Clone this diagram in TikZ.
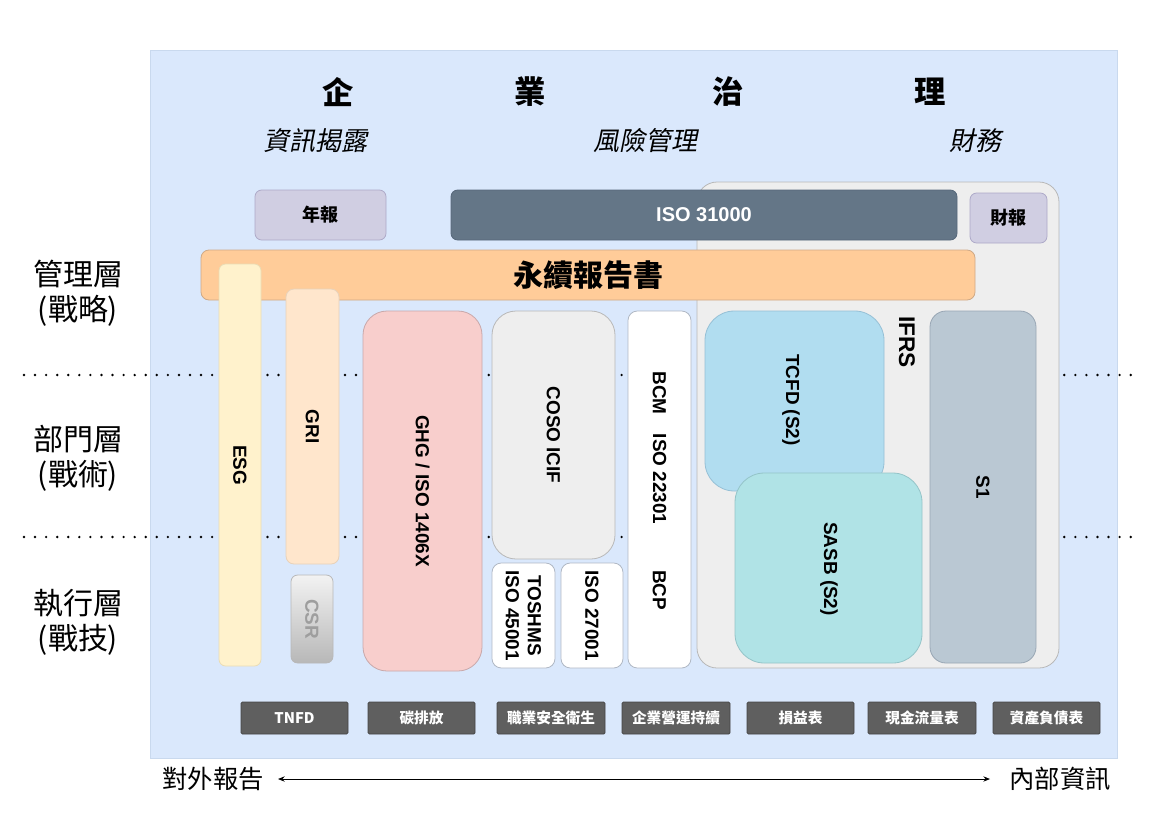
\documentclass[tikz,border=0pt]{standalone}
\usepackage{fontspec}
\setmainfont{Liberation Sans}
\newfontfamily\cjk{Noto Sans CJK TC}
\newfontfamily\cjkit{Noto Sans CJK TC}[FakeSlant=0.2]
\usetikzlibrary{fit,arrows.meta}
\definecolor{panelF}{HTML}{DAE8FC}
\definecolor{panelD}{HTML}{C9D9EE}
\definecolor{lavF}{HTML}{D0CEE2}
\definecolor{lavD}{HTML}{ADA9C8}
\definecolor{isoF}{HTML}{647687}
\definecolor{isoD}{HTML}{56677A}
\definecolor{orF}{HTML}{FFCC99}
\definecolor{orD}{HTML}{CFA986}
\definecolor{esgF}{HTML}{FFF2CC}
\definecolor{esgD}{HTML}{EADCB4}
\definecolor{griF}{HTML}{FFE6CC}
\definecolor{griD}{HTML}{E8D2BA}
\definecolor{ghgF}{HTML}{F8CECC}
\definecolor{ghgD}{HTML}{C8A8AA}
\definecolor{grF}{HTML}{EEEEEE}
\definecolor{grD}{HTML}{B8B8B8}
\definecolor{whD}{HTML}{B0B8C4}
\definecolor{tcF}{HTML}{B1DDF0}
\definecolor{tcD}{HTML}{96C0D6}
\definecolor{saF}{HTML}{B0E3E6}
\definecolor{saD}{HTML}{94C4C8}
\definecolor{s1F}{HTML}{BAC8D3}
\definecolor{s1D}{HTML}{98A6B4}
\definecolor{dkF}{HTML}{5F5F5F}
\definecolor{dkD}{HTML}{454545}
\tikzset{
  x=0.75pt, y=-0.75pt,
  bx/.style={inner sep=0pt, outer sep=0pt, rounded corners=#1, line width=0.6pt},
  bx/.default=6pt,
  vlab/.style={rotate=-90, font=\fontsize{14.2}{16.5}\selectfont\bfseries, inner sep=0pt, align=center},
  title/.style={font=\cjk\bfseries\fontsize{23.5}{27}\selectfont},
  sub/.style={font=\cjkit\fontsize{19.5}{23}\selectfont},
  layer/.style={font=\cjk\fontsize{22.5}{26.5}\selectfont, align=center, inner sep=0pt},
  dk/.style={bx=1pt, fill=dkF, draw=dkD},
  dklab/.style={font=\cjk\bfseries\fontsize{11}{13}\selectfont, text=white, inner sep=0pt},
  dotline/.style={line width=2pt, dash pattern=on 0pt off 8.3pt, line cap=round},
}
\begin{document}
\begin{tikzpicture}
\useasboundingbox (0,0) rectangle (1160,818);
% panel
\node[bx=0pt, fill=panelF, draw=panelD, fit={(150,50) (1117,758)}] (panel) {};
% dotted lines
\coordinate (d1l) at (24,375); \coordinate (d1r) at (1140,375);
\coordinate (d2l) at (24,537); \coordinate (d2r) at (1140,537);
\draw[dotline] (d1l) -- (d1r);
\draw[dotline] (d2l) -- (d2r);
% titles
\node[title] (t1) at (338,92) {企};
\node[title] (t2) at (530,92) {業};
\node[title] (t3) at (728,92) {治};
\node[title] (t4) at (930,92) {理};
\node[sub] (s1) at (315,141) {資訊揭露};
\node[sub] (s2) at (645,141) {風險管理};
\node[sub] (s3) at (975,141) {財務};
% layer labels
\node[layer] (L1) at (78,293) {管理層\\(戰略)};
\node[layer] (L2) at (78,458) {部門層\\(戰術)};
\node[layer] (L3) at (78,622) {執行層\\(戰技)};
% IFRS container
\node[bx=15pt, fill=grF, draw=grD, fit={(697,182) (1059,668)}] (ifrs) {};
% top row
\node[bx=5pt, fill=lavF, draw=lavD, fit={(255,190) (386,240)}] (nb) {};
\node[font=\cjk\bfseries\fontsize{13.5}{16}\selectfont] (nbT) at (nb.center) {年報};
\node[bx=5pt, fill=isoF, draw=isoD, fit={(451,190) (957,240)}] (iso) {};
\node[font=\bfseries\fontsize{15}{18}\selectfont, text=white] (isoT) at (iso.center) {ISO 31000};
\node[bx=5pt, fill=lavF, draw=lavD, fit={(970,193) (1047,243)}] (cb) {};
\node[font=\cjk\bfseries\fontsize{13.5}{16}\selectfont] (cbT) at (cb.center) {財報};
% sustainability bar
\node[bx=6pt, fill=orF, draw=orD, fit={(201,250) (975,300)}] (sus) {};
\node[font=\cjk\bfseries\fontsize{22.5}{26}\selectfont] (susT) at (588,275) {永續報告書};
% ESG / GRI / CSR
\node[bx=5pt, fill=esgF, draw=esgD, fit={(219,264) (261,666)}] (esg) {};
\node[vlab] (esgT) at (esg.center) {ESG};
\node[bx=6pt, fill=griF, draw=griD, fit={(286,289) (339,564)}] (gri) {};
\node[vlab] (griT) at (gri.center) {GRI};
\node[bx=5pt, top color=white!95!black, bottom color=black!28, draw=grD, fit={(291,575) (333,663)}] (csr) {};
\node[vlab, text=black!38] (csrT) at (csr.center) {CSR};
% GHG
\node[bx=18pt, fill=ghgF, draw=ghgD, fit={(363,311) (482,671)}] (ghg) {};
\node[vlab] (ghgT) at (ghg.center) {GHG / ISO 1406X};
% COSO
\node[bx=18pt, fill=grF, draw=grD, fit={(492,311) (615,559)}] (coso) {};
\node[vlab] (cosoT) at (coso.center) {COSO ICIF};
\node[bx=7pt, fill=white, draw=whD, fit={(492,563) (555,668)}] (tosh) {};
\node[vlab] (toshT) at (tosh.center) {TOSHMS\\ISO 45001};
\node[bx=7pt, fill=white, draw=whD, fit={(561,563) (623,668)}] (i27) {};
\node[vlab] (i27T) at (i27.center) {ISO 27001};
% BCM
\node[bx=7pt, fill=white, draw=whD, fit={(628,311) (691,668)}] (bcm) {};
\node[vlab] (bcmT1) at (659.5,393) {BCM};
\node[vlab] (bcmT2) at (659.5,479) {ISO 22301};
\node[vlab] (bcmT3) at (659.5,590) {BCP};
% IFRS inner
\node[vlab, font=\fontsize{17}{20}\selectfont\bfseries] (ifrsT) at (907,342) {IFRS};
\node[bx=22pt, fill=tcF, draw=tcD, fit={(705,311) (884,491)}] (tcfd) {};
\node[vlab] (tcfdT) at (791,400) {TCFD (S2)};
\node[bx=22pt, fill=saF, draw=saD, fit={(735,473) (922,663)}] (sasb) {};
\node[vlab] (sasbT) at (829,569) {SASB (S2)};
\node[bx=12pt, fill=s1F, draw=s1D, fit={(930,311) (1036,663)}] (s1b) {};
\node[vlab] (s1T) at (s1b.center) {S1};
% bottom dark boxes
\node[dk, fit={(241,702) (348,734)}] (k1) {};
\node[dklab] at (k1.center) (k1T) {TNFD};
\node[dk, fit={(368,702) (475,734)}] (k2) {};
\node[dklab] at (k2.center) (k2T) {碳排放};
\node[dk, fit={(497,702) (605,734)}] (k3) {};
\node[dklab] at (k3.center) (k3T) {職業安全衛生};
\node[dk, fit={(622,702) (730,734)}] (k4) {};
\node[dklab] at (k4.center) (k4T) {企業營運持續};
\node[dk, fit={(747,702) (854,734)}] (k5) {};
\node[dklab] at (k5.center) (k5T) {損益表};
\node[dk, fit={(868,702) (976,734)}] (k6) {};
\node[dklab] at (k6.center) (k6T) {現金流量表};
\node[dk, fit={(993,702) (1100,734)}] (k7) {};
\node[dklab] at (k7.center) (k7T) {資產負債表};
% bottom arrow
\node[font=\cjk\fontsize{19}{22}\selectfont, inner sep=0pt] (ext) at (213,779) {對外報告};
\node[font=\cjk\fontsize{19}{22}\selectfont, inner sep=0pt] (int) at (1060,779) {內部資訊};
\coordinate (aL) at (278,779);
\coordinate (aR) at (990,779);
\draw[{Stealth[length=5pt,width=4pt]}-{Stealth[length=5pt,width=4pt]}, line width=0.7pt] (aL) -- (aR);
\end{tikzpicture}
\end{document}
